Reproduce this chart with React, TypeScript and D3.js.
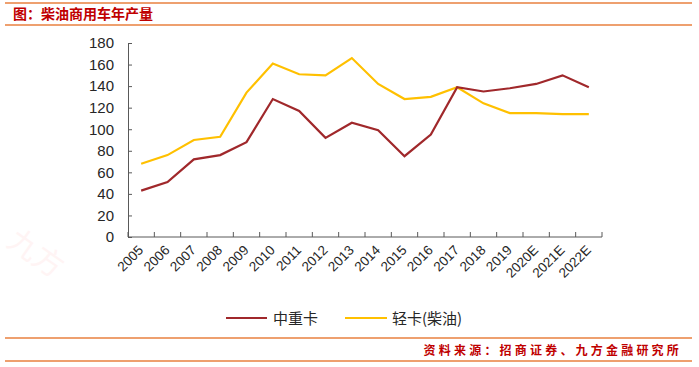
import { useEffect, useRef } from "react";
import * as d3 from "d3";

const years = [
  "2005", "2006", "2007", "2008", "2009", "2010", "2011", "2012", "2013",
  "2014", "2015", "2016", "2017", "2018", "2019", "2020E", "2021E", "2022E",
];
const heavy = [43, 51, 72, 76, 88, 128, 117, 92, 106, 99, 75, 95, 139, 135, 138, 142, 150, 139];
const light = [68, 76, 90, 93, 134, 161, 151, 150, 166, 142, 128, 130, 139, 124, 115, 115, 114, 114];
const yTicks = [0, 20, 40, 60, 80, 100, 120, 140, 160, 180];

const W = 699;
const H = 367;
const LEFT = 128;
const RIGHT = 602;
const TOP = 43;
const BOTTOM = 237;

const RED = "#A0282B";
const YELLOW = "#FFC000";
const ORANGE = "#E8803F";
const CN = "'Noto Sans CJK SC', sans-serif";
const LATIN = "'Liberation Sans', Arial, sans-serif";

const App = () => {
  const gX = useRef<SVGGElement | null>(null);
  const gY = useRef<SVGGElement | null>(null);

  const x = d3.scaleBand().domain(years).range([LEFT, RIGHT]);
  const y = d3.scaleLinear().domain([0, 180]).range([BOTTOM, TOP]);
  const cx = (d: string) => (x(d) ?? 0) + x.bandwidth() / 2;

  const line = d3
    .line<number>()
    .x((_, i) => cx(years[i]))
    .y((v) => y(v));

  useEffect(() => {
    if (gY.current) {
      const g = d3.select(gY.current);
      g.call(d3.axisLeft(y).tickValues(yTicks).tickSize(-4).tickPadding(14));
      g.select(".domain").attr("stroke", "#595959");
      g.selectAll(".tick line").attr("stroke", "#595959");
      g.selectAll(".tick text")
        .attr("font-family", LATIN)
        .attr("font-size", 15)
        .attr("fill", "#262626");
    }
    if (gX.current) {
      // ticks on band boundaries, pointing up into the plot
      const edges = [...years.map((d) => x(d) ?? 0), RIGHT];
      const g = d3.select(gX.current);
      g.selectAll("*").remove();
      g.append("line")
        .attr("x1", LEFT)
        .attr("x2", RIGHT)
        .attr("y1", BOTTOM)
        .attr("y2", BOTTOM)
        .attr("stroke", "#595959");
      g.selectAll("line.tk")
        .data(edges)
        .join("line")
        .attr("class", "tk")
        .attr("x1", (d) => d)
        .attr("x2", (d) => d)
        .attr("y1", BOTTOM)
        .attr("y2", BOTTOM - 5)
        .attr("stroke", "#595959");
      g.selectAll("text")
        .data(years)
        .join("text")
        .attr("transform", (d) => `translate(${cx(d) + 3},${BOTTOM + 14}) rotate(-45)`)
        .attr("text-anchor", "end")
        .attr("font-family", LATIN)
        .attr("font-size", 13.5)
        .attr("fill", "#262626")
        .text((d) => d);
    }
  }, []);

  return (
    <svg
      width={W}
      height={H}
      style={{ position: "absolute", left: 0, top: 0, background: "#fff" }}
    >
      {/* faint watermark */}
      <text
        transform="translate(30,262) rotate(35)"
        fontFamily={CN}
        fontSize={30}
        fill="#FFF4F4"
        textAnchor="middle"
      >
        九方
      </text>

      <line x1={5} x2={692} y1={3} y2={3} stroke={ORANGE} strokeWidth={1.3} />
      <line x1={5} x2={692} y1={25} y2={25} stroke={ORANGE} strokeWidth={1.3} />
      <text x={13} y={19} fontFamily={CN} fontWeight="bold" fontSize={14} fill="#C00000">
        图：柴油商用车年产量
      </text>

      <g ref={gY} transform={`translate(${LEFT},0)`} />
      <g ref={gX} />

      <path d={line(light) ?? ""} fill="none" stroke={YELLOW} strokeWidth={2.2} />
      <path d={line(heavy) ?? ""} fill="none" stroke={RED} strokeWidth={2.2} />

      <line x1={226} x2={267} y1={318} y2={318} stroke={RED} strokeWidth={2.2} />
      <text x={273} y={323.5} fontFamily={CN} fontSize={15} fill="#262626">
        中重卡
      </text>
      <line x1={345} x2={387} y1={318} y2={318} stroke={YELLOW} strokeWidth={2.2} />
      <text x={392} y={323.5} fontFamily={CN} fontSize={15} fill="#262626">
        轻卡(柴油)
      </text>

      <line x1={5} x2={692} y1={338} y2={338} stroke={ORANGE} strokeWidth={1.3} />
      <line x1={5} x2={692} y1={361} y2={361} stroke={ORANGE} strokeWidth={1.3} />
      <text
        x={682}
        y={354.5}
        textAnchor="end"
        fontFamily={CN}
        fontWeight="bold"
        fontSize={12}
        letterSpacing={3.2}
        fill="#C00000"
      >
        资料来源：招商证券、九方金融研究所
      </text>
    </svg>
  );
};

export default App;
